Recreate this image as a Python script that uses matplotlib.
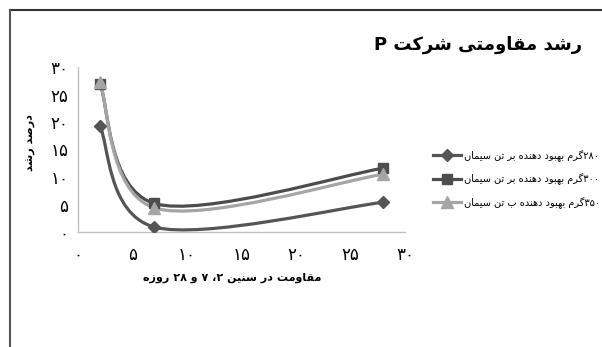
import numpy as np
import matplotlib.pyplot as plt
from matplotlib.path import Path
from matplotlib.patches import PathPatch
from matplotlib.lines import Line2D

# ======================================
# DATA
# ======================================

days = [2, 7, 28]

growth_280 = [19.3, 0.9, 5.4]
growth_300 = [27.0, 5.2, 11.6]
growth_350 = [27.2, 4.4, 10.5]

series_labels = [
    "۲۸۰گرم بهبود دهنده بر تن سیمان",
    "۳۰۰گرم بهبود دهنده بر تن سیمان",
    "۳۵۰گرم بهبود دهنده ب تن سیمان",
]

title_text = "رشد مقاومتی شرکت P"
xlabel_text = "مقاومت در سنین ۲، ۷ و ۲۸ روزه"
ylabel_text = "درصد رشد"

tick_values = [0, 5, 10, 15, 20, 25, 30]

# ======================================
# SIMPLE ARABIC / PERSIAN SHAPING
# ======================================

# isolated, final, initial, medial
FORMS = {
    "ا": ("\uFE8D", "\uFE8E", None, None),
    "ب": ("\uFE8F", "\uFE90", "\uFE91", "\uFE92"),
    "ت": ("\uFE95", "\uFE96", "\uFE97", "\uFE98"),
    "د": ("\uFEA9", "\uFEAA", None, None),
    "ر": ("\uFEAD", "\uFEAE", None, None),
    "ز": ("\uFEAF", "\uFEB0", None, None),
    "س": ("\uFEB1", "\uFEB2", "\uFEB3", "\uFEB4"),
    "ش": ("\uFEB5", "\uFEB6", "\uFEB7", "\uFEB8"),
    "ص": ("\uFEB9", "\uFEBA", "\uFEBB", "\uFEBC"),
    "ق": ("\uFED5", "\uFED6", "\uFED7", "\uFED8"),
    "م": ("\uFEE1", "\uFEE2", "\uFEE3", "\uFEE4"),
    "ن": ("\uFEE5", "\uFEE6", "\uFEE7", "\uFEE8"),
    "ه": ("\uFEE9", "\uFEEA", "\uFEEB", "\uFEEC"),
    "و": ("\uFEED", "\uFEEE", None, None),
    "ک": ("\uFB8E", "\uFB8F", "\uFB90", "\uFB91"),
    "گ": ("\uFB92", "\uFB93", "\uFB94", "\uFB95"),
    "ی": ("\uFBFC", "\uFBFD", "\uFBFE", "\uFBFF"),
}


def dual(c):
    return c in FORMS and FORMS[c][2] is not None


def shape(text):
    out = []
    for i, c in enumerate(text):
        if c not in FORMS:
            out.append(c)
            continue
        prev_c = text[i - 1] if i > 0 else ""
        next_c = text[i + 1] if i + 1 < len(text) else ""
        join_prev = dual(prev_c)
        join_next = dual(c) and next_c in FORMS
        iso, fin, ini, med = FORMS[c]
        if join_prev and join_next:
            out.append(med)
        elif join_prev:
            out.append(fin)
        elif join_next:
            out.append(ini)
        else:
            out.append(iso)
    return "".join(out)


def is_ltr(c):
    return c.isdigit() or ("A" <= c <= "Z") or ("a" <= c <= "z")


def rtl(text):
    shaped = shape(text)
    runs = []
    for c in shaped:
        kind = is_ltr(c)
        if runs and runs[-1][0] == kind:
            runs[-1][1].append(c)
        else:
            runs.append((kind, [c]))
    pieces = []
    for kind, chars in reversed(runs):
        if kind:
            pieces.append("".join(chars))
        else:
            pieces.append("".join(reversed(chars)))
    return "".join(pieces)


def fa_num(v):
    return str(v).translate(str.maketrans("0123456789", "۰۱۲۳۴۵۶۷۸۹"))


# ======================================
# SMOOTH (EXCEL STYLE) LINE
# ======================================

def smooth_path(xs, ys):
    pts = np.column_stack([xs, ys]).astype(float)
    n = len(pts)
    verts = [pts[0]]
    codes = [Path.MOVETO]
    for i in range(n - 1):
        p0 = pts[i - 1] if i > 0 else pts[i]
        p1 = pts[i]
        p2 = pts[i + 1]
        p3 = pts[i + 2] if i + 2 < n else pts[i + 1]
        c1 = p1 + (p2 - p0) / 6.0
        c2 = p2 - (p3 - p1) / 6.0
        verts += [c1, c2, p2]
        codes += [Path.CURVE4] * 3
    return Path(verts, codes)


# ======================================
# PLOT
# ======================================

fig = plt.figure(figsize=(6.02, 3.47), dpi=100)
ax = fig.add_axes([78 / 602, 115 / 347, 327 / 602, 165 / 347])

series = [
    (growth_280, "#555555", "D", 6),
    (growth_300, "#4d4d4d", "s", 7.5),
    (growth_350, "#a5a5a5", "^", 8),
]

handles = []

for (vals, color, marker, msize), label in zip(series, series_labels):

    patch = PathPatch(
        smooth_path(days, vals),
        facecolor="none",
        edgecolor=color,
        linewidth=2.3,
        capstyle="round",
        zorder=2
    )
    ax.add_patch(patch)

    ax.plot(
        days,
        vals,
        linestyle="none",
        marker=marker,
        markersize=msize,
        color=color,
        zorder=3
    )

    handles.append(
        Line2D(
            [0], [0],
            color=color,
            linewidth=2.3,
            marker=marker,
            markersize=msize,
            label=rtl(label)
        )
    )

ax.set_xlim(0, 30)
ax.set_ylim(0, 30)

ax.set_xticks(tick_values)
ax.set_yticks(tick_values)
ax.set_xticklabels([fa_num(v) for v in tick_values], fontsize=12)
ax.set_yticklabels([fa_num(v) for v in tick_values], fontsize=12)
ax.tick_params(length=0)
ax.tick_params(axis="x", pad=10)
ax.tick_params(axis="y", pad=7)

for side in ["top", "right"]:
    ax.spines[side].set_visible(False)
for side in ["left", "bottom"]:
    ax.spines[side].set_color("#c0c0c0")
    ax.spines[side].set_linewidth(1.0)

fig.text(
    478 / 602, 1 - 45 / 347,
    rtl(title_text),
    ha="center", va="center",
    fontsize=13, fontweight="bold"
)

fig.text(
    232 / 602, 1 - 278 / 347,
    rtl(xlabel_text),
    ha="center", va="center",
    fontsize=8, fontweight="bold"
)

fig.text(
    31 / 602, 1 - 142 / 347,
    rtl(ylabel_text),
    ha="center", va="center",
    rotation=90,
    fontsize=8, fontweight="bold"
)

fig.legend(
    handles=handles,
    loc="upper left",
    bbox_to_anchor=(429 / 602, 1 - 146 / 347),
    frameon=False,
    fontsize=7,
    handlelength=2.9,
    handletextpad=0.3,
    labelspacing=1.2,
    borderaxespad=0
)

# outer chart frame (top and left edges)
fig.add_artist(Line2D([9.5 / 602, 1], [1 - 9.5 / 347, 1 - 9.5 / 347],
                      color="#333333", linewidth=1.5))
fig.add_artist(Line2D([9.5 / 602, 9.5 / 602], [0, 1 - 9.5 / 347],
                      color="#555555", linewidth=1.5))

plt.savefig("out.png", dpi=100)
